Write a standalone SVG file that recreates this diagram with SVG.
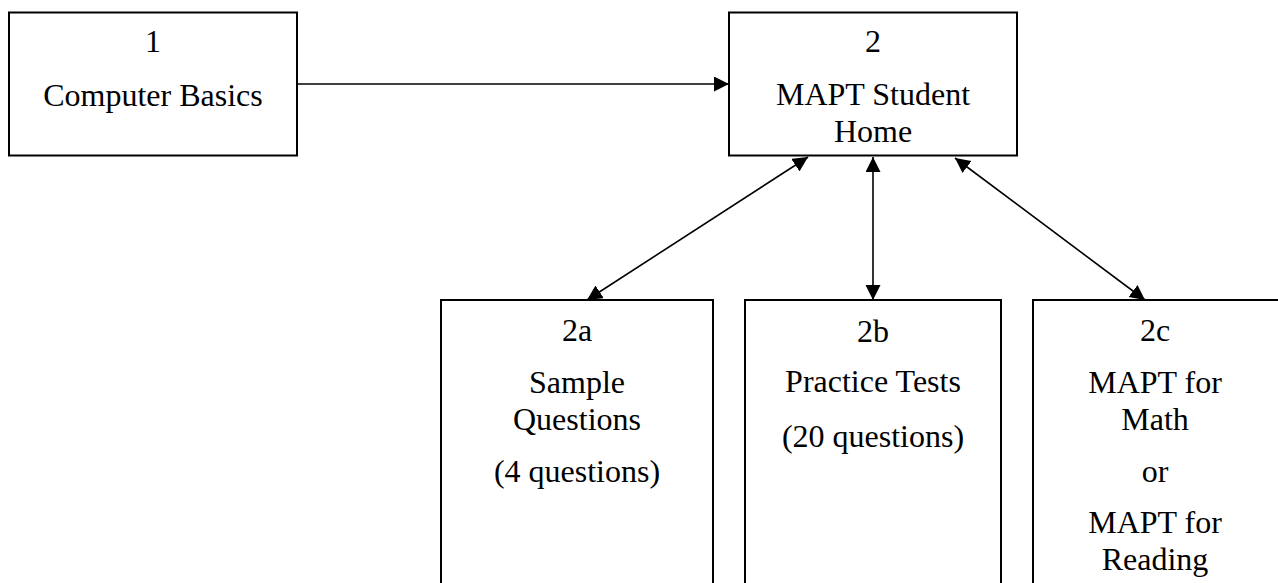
<svg xmlns="http://www.w3.org/2000/svg" width="1278" height="583" viewBox="0 0 1278 583">
<style>
.box{fill:#fff;stroke:#000;stroke-width:2}
.t{font-family:'Liberation Serif','Times New Roman',Tinos,'DejaVu Serif',serif;font-size:32px;fill:#000;text-anchor:middle}
.c{stroke:#000;stroke-width:1.6;fill:none}
</style>
<defs>
<marker id="ah" markerUnits="userSpaceOnUse" markerWidth="16" markerHeight="16" viewBox="0 0 16 16" refX="15" refY="7.5" orient="auto-start-reverse">
<path d="M0,0 L15,7.5 L0,15 Z" fill="#000"/>
</marker>
</defs>
<rect width="1278" height="583" fill="#fff"/>
<g id="n1" font-family="Liberation Serif, serif">
<rect class="box" x="9" y="12.5" width="288" height="143"/>
<text class="t" x="153" y="52">1</text>
<text class="t" x="153" y="106">Computer Basics</text>
</g>
<g id="n2" font-family="Liberation Serif, serif">
<rect class="box" x="729" y="12.5" width="288" height="143"/>
<text class="t" x="873" y="52">2</text>
<text class="t" x="873" y="105">MAPT Student</text>
<text class="t" x="873" y="142">Home</text>
</g>
<g id="n2a" font-family="Liberation Serif, serif">
<rect class="box" x="441" y="300" width="272" height="300"/>
<text class="t" x="577" y="341">2a</text>
<text class="t" x="577" y="393">Sample</text>
<text class="t" x="577" y="430">Questions</text>
<text class="t" x="577" y="482">(4 questions)</text>
</g>
<g id="n2b" font-family="Liberation Serif, serif">
<rect class="box" x="745" y="300" width="256" height="300"/>
<text class="t" x="873" y="342">2b</text>
<text class="t" x="873" y="392">Practice Tests</text>
<text class="t" x="873" y="447">(20 questions)</text>
</g>
<g id="n2c" font-family="Liberation Serif, serif">
<rect class="box" x="1033" y="300" width="250" height="300"/>
<text class="t" x="1155" y="341">2c</text>
<text class="t" x="1155" y="393">MAPT for</text>
<text class="t" x="1155" y="430">Math</text>
<text class="t" x="1155" y="482">or</text>
<text class="t" x="1155" y="533">MAPT for</text>
<text class="t" x="1155" y="570">Reading</text>
</g>
<g id="connectors">
<line class="c" x1="297" y1="84" x2="729" y2="84" marker-end="url(#ah)"/>
<line class="c" x1="808" y1="157" x2="587" y2="300" marker-start="url(#ah)" marker-end="url(#ah)"/>
<line class="c" x1="873" y1="157" x2="873" y2="300" marker-start="url(#ah)" marker-end="url(#ah)"/>
<line class="c" x1="955" y1="158" x2="1145" y2="300" marker-start="url(#ah)" marker-end="url(#ah)"/>
</g>
</svg>
